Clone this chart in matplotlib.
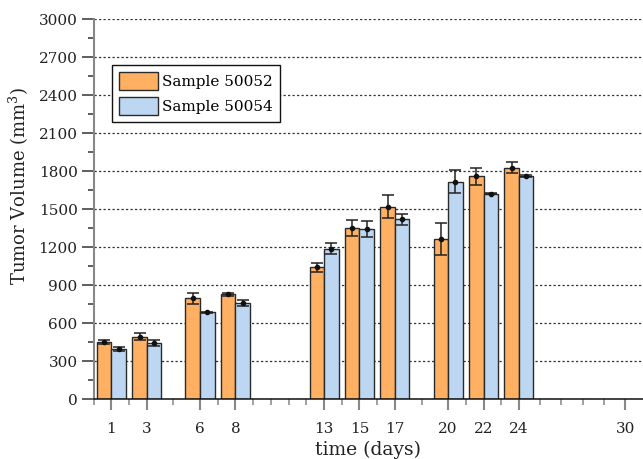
import matplotlib
matplotlib.use("Agg")
import matplotlib.pyplot as plt
import numpy as np

# ==========================================
# DATA
# ==========================================
days = [1, 3, 6, 8, 13, 15, 17, 20, 22, 24]
vol_50052 = [452, 495, 797, 828, 1044, 1352, 1520, 1265, 1762, 1828]
err_50052 = [14, 30, 42, 12, 35, 63, 92, 126, 67, 45]
vol_50054 = [401, 447, 689, 761, 1189, 1341, 1420, 1717, 1623, 1762]
err_50054 = [16, 24, 4, 21, 45, 63, 43, 92, 5, 8]

label_a = "Sample 50052"
label_b = "Sample 50054"
xtick_days = [1, 3, 6, 8, 13, 15, 17, 20, 22, 24, 30]
xminor_days = [0, 2, 4.5, 7, 9, 10, 11, 12, 14, 16, 18.5, 21, 23, 25.2, 26.4, 27.6, 28.8]

# ==========================================
# STYLE
# ==========================================
plt.rcParams['font.family'] = ['DejaVu Serif']
plt.rcParams['mathtext.fontset'] = 'dejavuserif'

C_ORANGE = '#ffb062'
C_BLUE = '#bdd7f2'
EDGE = '#2a2a2a'

fig = plt.figure(figsize=(6.43, 4.59), dpi=100)
ax = fig.add_axes([0.1457, 0.130, 0.8543, 0.828])

x = np.array(days, dtype=float)
w = 0.82
off = w / 2

ax.bar(x - off, vol_50052, width=w, color=C_ORANGE, edgecolor=EDGE, linewidth=1.0,
       label=label_a, zorder=2)
ax.bar(x + off, vol_50054, width=w, color=C_BLUE, edgecolor=EDGE, linewidth=1.0,
       label=label_b, zorder=2)

ax.errorbar(x - off, vol_50052, yerr=err_50052, fmt='o', ms=3, color='#111111',
            ecolor='#222222', elinewidth=1.1, capsize=4.5, capthick=1.1, zorder=3)
ax.errorbar(x + off, vol_50054, yerr=err_50054, fmt='o', ms=3, color='#111111',
            ecolor='#222222', elinewidth=1.1, capsize=4.5, capthick=1.1, zorder=3)

# axes limits and ticks
ax.set_xlim(0, 31)
ax.set_ylim(0, 3000)
ax.set_yticks(np.arange(0, 3001, 300))
ax.set_yticks(np.arange(150, 3000, 300), minor=True)
ax.set_xticks(xtick_days)
ax.set_xticks(xminor_days, minor=True)

ax.tick_params(axis='y', which='major', length=8.6, width=1.1, color='#333333',
               labelsize=11, pad=3, labelcolor='#222222')
ax.tick_params(axis='y', which='minor', length=4.3, width=1.1, color='#333333')
ax.tick_params(axis='x', which='major', length=8, width=1.5, color='#888888',
               labelsize=11, pad=8, labelcolor='#222222')
ax.tick_params(axis='x', which='minor', length=4.3, width=1.1, color='#888888')

# spines
for s in ['top', 'right']:
    ax.spines[s].set_visible(False)
ax.spines['left'].set_color('#888888')
ax.spines['left'].set_linewidth(1.5)
ax.spines['bottom'].set_color('#111111')
ax.spines['bottom'].set_linewidth(1.1)

# dashed grid behind bars
ax.set_axisbelow(True)
ax.yaxis.grid(True, which='major', linestyle=(0, (1.8, 1.8)), linewidth=0.9, color='#333333')

ax.set_ylabel(r'Tumor Volume (mm$^3$)', fontsize=13, color='#222222')
ax.yaxis.set_label_coords(-0.115, 0.56)
ax.set_xlabel('time (days)', fontsize=13.5, color='#222222')
ax.xaxis.set_label_coords(0.5, -0.108)

leg = ax.legend(loc='upper left', bbox_to_anchor=(0.033, 0.879), borderaxespad=0,
                fontsize=11, fancybox=False, framealpha=1, edgecolor='#111111',
                handlelength=2.6, handleheight=1.4, handletextpad=0.25,
                labelspacing=0.5, borderpad=0.45)
leg.get_frame().set_linewidth(1.0)

fig.savefig('out.png', dpi=100)
